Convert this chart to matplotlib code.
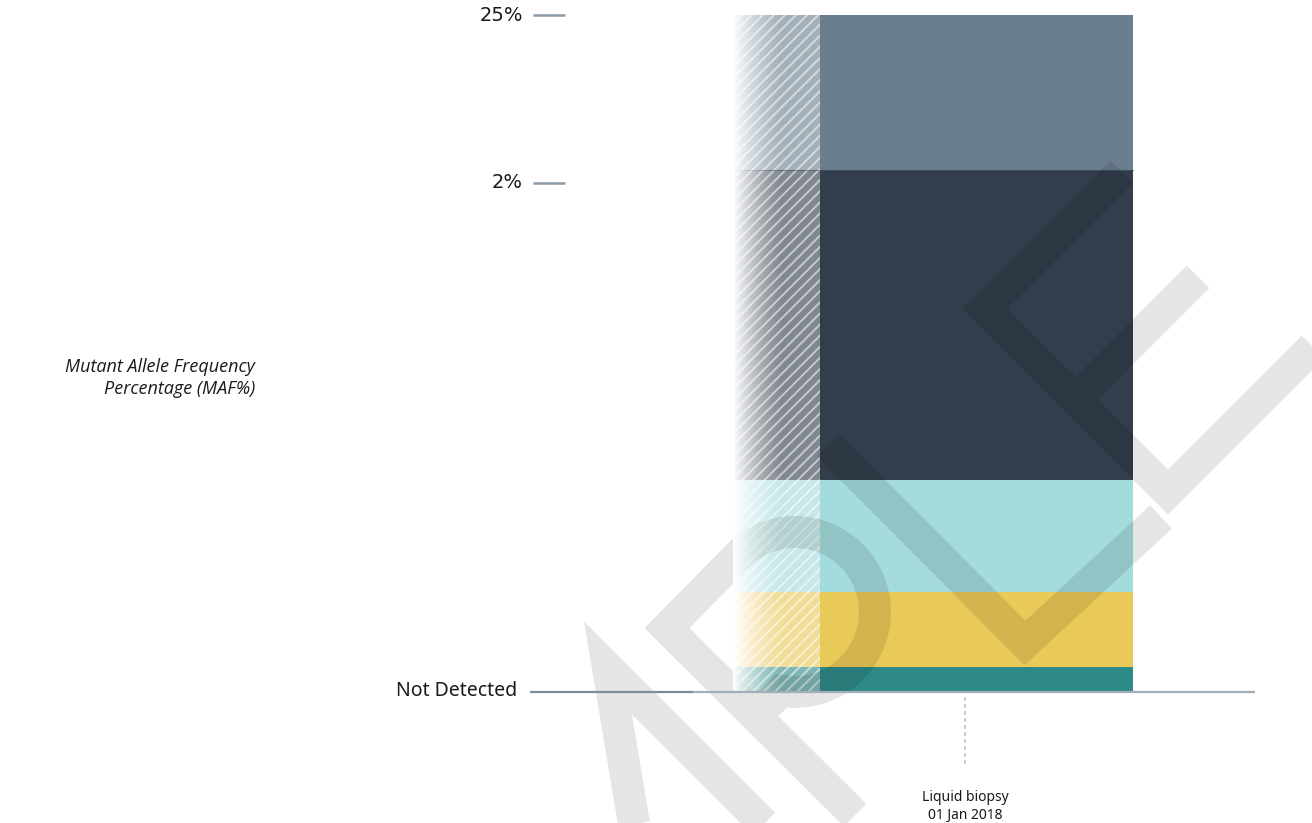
import numpy as np
import matplotlib.pyplot as plt
from matplotlib.path import Path
from matplotlib.patches import PathPatch
from matplotlib.colors import to_rgb

# segment heights on the chart's display scale (0 = not detected, 676 = 25%)
segmentos = ['ND', 'bajo', 'medio', 'alto', 'maximo']
alturas = [24, 75, 112, 310, 155]
colores = ['#2d8a86', '#e9c957', '#a4dbdc', '#323e4b', '#6b7e8f']

tick_vals = [676, 508, 0]
tick_labels = ['25%', '2%', 'Not Detected']

evento_label = 'Liquid biopsy\n01 Jan 2018'
ylabel = 'Mutant Allele Frequency\nPercentage (MAF%)'

H = 691  # baseline row in pixels


def pv(px, py):
    return (px, H - py)


plt.rcParams['hatch.linewidth'] = 1.4

fig = plt.figure(figsize=(13.12, 8.23), dpi=100)
ax = fig.add_axes([0, 0, 1, 1])

bottoms = np.concatenate([[0], np.cumsum(alturas)[:-1]])

# solid part of the bar
ax.bar(820, alturas, 313, bottom=bottoms, align='edge', color=colores,
       linewidth=0, zorder=2)
# hatched lead-in
col_a = [(*to_rgb(c), 0.62) for c in colores]
ax.bar(735, alturas, 85, bottom=bottoms, align='edge', color=col_a,
       edgecolor=(1, 1, 1, 0.55), hatch='///', linewidth=0, zorder=2)
# thin line between top segments
ax.plot([735, 1133], [bottoms[4], bottoms[4]], color='#4a5866', lw=0.8,
        alpha=0.6, zorder=2.5)

# watermark
verts, codes = [], []


def trazo(pts):
    for i, p in enumerate(pts):
        verts.append(pv(*p))
        codes.append(Path.MOVETO if i == 0 else Path.LINETO)


trazo([(640, 860), (608, 668), (800, 860)])
ang = np.radians(np.linspace(135, -100, 60))
arco = [(795 + 80 * np.cos(a), 612 - 80 * np.sin(a)) for a in ang]
trazo([(855, 815), (667, 628)] + arco + [(755, 717)])
trazo([(828, 445), (1025, 643), (1161, 517)])
trazo([(1122, 172), (985, 309), (1168, 492), (1345, 315)])
trazo([(1198, 277), (1076, 399)])
marca = PathPatch(Path(verts, codes), facecolor='none',
                  edgecolor=(0, 0, 0, 0.1), lw=23, joinstyle='miter',
                  capstyle='butt', zorder=3)
ax.add_patch(marca)

# white fade on the left of the bar
t = np.linspace(0, 1, 200)
grad = np.ones((1, 200, 4))
grad[0, :, 3] = (1 - t) ** 1.5
ax.imshow(grad, extent=[733, 786, 0, bottoms[-1] + alturas[-1]],
          aspect='auto', interpolation='bilinear', zorder=4)

# baseline
ax.plot([530, 693], [-1, -1], color='#7f8b98', lw=1.6,
        solid_capstyle='butt', zorder=5)
ax.plot([693, 1255], [-1, -1], color='#a3adb8', lw=1.6,
        solid_capstyle='butt', zorder=5)

# ticks
ax.hlines(tick_vals[:2], 533, 565, color='#8c99a6', lw=1.8)
for v, lab in zip(tick_vals[:2], tick_labels[:2]):
    ax.text(523, v, lab, ha='right', va='center', fontsize=14,
            family='DejaVu Sans', color='#1a1a1a')
ax.text(517, tick_vals[2], tick_labels[2], ha='right', va='center',
        fontsize=14, family='Noto Sans', color='#1a1a1a')

ax.text(255, H - 378, ylabel, ha='right', va='center', style='italic',
        fontsize=13, family='Open Sans', linespacing=1.35,
        multialignment='right', color='#1a1a1a')

# event marker
ax.vlines(965, H - 697, H - 765, color='#c5cbd1', lw=1.4,
          linestyles=(0, (2, 1.6)))
ax.text(965, H - 806, evento_label, ha='center', va='center', fontsize=10,
        family='Noto Sans', linespacing=1.25, color='#1a1a1a')

ax.set_xlim(0, 1312)
ax.set_ylim(H - 823, H)
ax.axis('off')
fig.savefig('out.png', dpi=100)
